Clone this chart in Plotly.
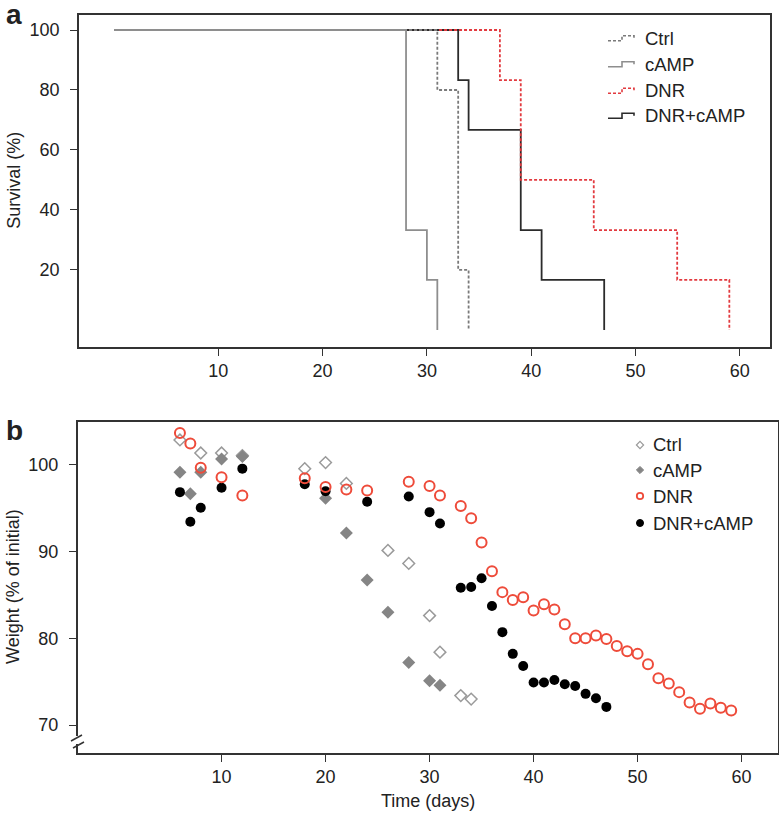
import plotly.graph_objects as go

# ---- panel a: survival (Kaplan-Meier steps) ----
ctrl_surv_t = [0, 31, 33, 34]
ctrl_surv = [100, 80, 20, 0]
camp_surv_t = [0, 28, 30, 31]
camp_surv = [100, 33.3, 16.7, 0]
dnr_surv_t = [0, 37, 39, 46, 54, 59]
dnr_surv = [100, 83.3, 50, 33.3, 16.7, 0]
dnrcamp_surv_t = [0, 33, 34, 39, 41, 47]
dnrcamp_surv = [100, 83.3, 66.7, 33.3, 16.7, 0]

# ---- panel b: body weight (% of initial) ----
ctrl_days = [6, 8, 10, 12, 18, 20, 22, 26, 28, 30, 31, 33, 34]
ctrl_weight = [102.8, 101.3, 101.3, 101.0, 99.5, 100.2, 97.8, 90.1, 88.6, 82.6, 78.4, 73.4, 73.0]
camp_days = [6, 7, 8, 10, 12, 20, 22, 24, 26, 28, 30, 31]
camp_weight = [99.1, 96.6, 99.1, 100.6, 100.9, 96.1, 92.1, 86.7, 83.0, 77.2, 75.1, 74.6]
dnr_days = [6, 7, 8, 10, 12, 18, 20, 22, 24, 28, 30, 31, 33, 34, 35, 36, 37, 38, 39, 40,
            41, 42, 43, 44, 45, 46, 47, 48, 49, 50, 51, 52, 53, 54, 55, 56, 57, 58, 59]
dnr_weight = [103.6, 102.4, 99.6, 98.5, 96.4, 98.4, 97.4, 97.1, 97.0, 98.0, 97.5, 96.4, 95.2,
              93.8, 91.0, 87.7, 85.3, 84.4, 84.7, 83.2, 83.9, 83.3, 81.6, 80.0, 80.0, 80.3,
              79.9, 79.1, 78.5, 78.2, 77.0, 75.4, 74.8, 73.8, 72.6, 71.9, 72.5, 72.0, 71.7]
dnrcamp_days = [6, 7, 8, 10, 12, 18, 20, 24, 28, 30, 31, 33, 34, 35, 36, 37, 38, 39, 40,
                41, 42, 43, 44, 45, 46, 47]
dnrcamp_weight = [96.8, 93.4, 95.0, 97.3, 99.5, 97.7, 96.9, 95.7, 96.3, 94.5, 93.2, 85.8, 85.9,
                  86.9, 83.7, 80.7, 78.2, 76.8, 74.9, 74.9, 75.2, 74.7, 74.5, 73.6, 73.1, 72.1]

group_names = ['Ctrl', 'cAMP', 'DNR', 'DNR+cAMP']

W, H = 779, 815
FONT = 'Liberation Sans, Arial, Helvetica, sans-serif'
TXT = '#222222'
AX = '#333333'
GRAY_DOT = '#7a7a7a'
GRAY = '#8e8e8e'
RED_LINE = '#e23a3f'
RED_PT = '#ee4b3a'
DARK = '#2b2b2b'


def px(x):
    return x / W


def py(y):
    return 1 - y / H


fig = go.Figure()

# survival curves (drawn so the light grey line lies on top of the common 100% segment)
fig.add_trace(go.Scatter(x=dnrcamp_surv_t, y=dnrcamp_surv, mode='lines', line_shape='hv',
                         line=dict(color=DARK, width=1.8), xaxis='x', yaxis='y'))
fig.add_trace(go.Scatter(x=dnr_surv_t, y=dnr_surv, mode='lines', line_shape='hv',
                         line=dict(color=RED_LINE, width=1.8, dash='3px,2px'), xaxis='x', yaxis='y'))
fig.add_trace(go.Scatter(x=ctrl_surv_t, y=ctrl_surv, mode='lines', line_shape='hv',
                         line=dict(color=GRAY_DOT, width=1.8, dash='3px,2px'), xaxis='x', yaxis='y'))
fig.add_trace(go.Scatter(x=camp_surv_t, y=camp_surv, mode='lines', line_shape='hv',
                         line=dict(color=GRAY, width=1.8), xaxis='x', yaxis='y'))

# weight points
fig.add_trace(go.Scatter(x=ctrl_days, y=ctrl_weight, mode='markers', xaxis='x2', yaxis='y2',
                         marker=dict(symbol='diamond-open', size=9, color='#9a9a9a',
                                     line=dict(width=1.5, color='#9a9a9a'))))
fig.add_trace(go.Scatter(x=camp_days, y=camp_weight, mode='markers', xaxis='x2', yaxis='y2',
                         marker=dict(symbol='diamond', size=10, color='#858585')))
fig.add_trace(go.Scatter(x=dnrcamp_days, y=dnrcamp_weight, mode='markers', xaxis='x2', yaxis='y2',
                         marker=dict(symbol='circle', size=10, color='#000000')))
fig.add_trace(go.Scatter(x=dnr_days, y=dnr_weight, mode='markers', xaxis='x2', yaxis='y2',
                         marker=dict(symbol='circle-open', size=10, color=RED_PT,
                                     line=dict(width=2, color=RED_PT))))

axis_common = dict(showline=True, mirror=True, linecolor=AX, linewidth=1.6, ticks='outside',
                   ticklen=7, tickwidth=1.4, tickcolor=AX, showgrid=False, zeroline=False,
                   tickfont=dict(family=FONT, size=18, color=TXT), automargin=False)
x_common = dict(ticklabelstandoff=0, **axis_common)
y_common = dict(ticklabelstandoff=7, **axis_common)

fig.update_layout(
    width=W, height=H,
    margin=dict(l=0, r=0, t=0, b=0),
    paper_bgcolor='white', plot_bgcolor='white',
    showlegend=False,
    font=dict(family=FONT, color=TXT),
    xaxis=dict(domain=[px(79), px(770)], range=[-3.36, 62.9], tickvals=[10, 20, 30, 40, 50, 60],
               anchor='y', **x_common),
    yaxis=dict(domain=[py(346.7), py(14.7)], range=[-5.6, 105.1], tickvals=[20, 40, 60, 80, 100],
               anchor='x', **y_common),
    xaxis2=dict(domain=[px(77.7), px(778)], range=[-3.83, 63.5], tickvals=[10, 20, 30, 40, 50, 60],
                anchor='y2', **x_common),
    yaxis2=dict(domain=[py(753), py(421.7)], range=[66.8, 104.9], tickvals=[70, 80, 90, 100],
                anchor='x2', **y_common),
)

annotations = [
    dict(text='<b>a</b>', x=px(14), y=py(14), font=dict(size=28)),
    dict(text='<b>b</b>', x=px(14), y=py(431), font=dict(size=28)),
    dict(text='Survival (%)', x=px(14), y=py(180.7), textangle=-90, font=dict(size=18)),
    dict(text='Weight (% of initial)', x=px(13), y=py(587), textangle=-90, font=dict(size=18)),
    dict(text='Time (days)', x=px(428), y=py(801), font=dict(size=18)),
]

shapes = []

# legend for panel a (step-shaped samples)
leg_a_y = [38.3, 64.3, 90.7, 115.7]
leg_a_style = [(GRAY_DOT, '3px,2px'), (GRAY, 'solid'), (RED_LINE, '3px,2px'), (DARK, 'solid')]
for name, yc, (col, dash) in zip(group_names, leg_a_y, leg_a_style):
    path = 'M {},{} H {} V {} H {} V {}'.format(px(608), py(yc + 2.5), px(622), py(yc - 2.5),
                                                 px(634), py(yc))
    shapes.append(dict(type='path', path=path, xref='paper', yref='paper',
                       line=dict(color=col, width=1.6, dash=dash)))
    annotations.append(dict(text=name, x=px(643), y=py(yc), xanchor='left',
                            font=dict(size=18.5)))

# legend for panel b (marker samples)
leg_b_y = [445, 470, 496, 523]
lx = 640
r = 3.6
shapes.append(dict(type='path', xref='paper', yref='paper',
                   path='M {},{} L {},{} L {},{} L {},{} Z'.format(
                       px(lx), py(leg_b_y[0] - r), px(lx + r), py(leg_b_y[0]),
                       px(lx), py(leg_b_y[0] + r), px(lx - r), py(leg_b_y[0])),
                   line=dict(color='#9a9a9a', width=1.2)))
shapes.append(dict(type='path', xref='paper', yref='paper',
                   path='M {},{} L {},{} L {},{} L {},{} Z'.format(
                       px(lx), py(leg_b_y[1] - r), px(lx + r), py(leg_b_y[1]),
                       px(lx), py(leg_b_y[1] + r), px(lx - r), py(leg_b_y[1])),
                   fillcolor='#858585', line=dict(color='#858585', width=1)))
shapes.append(dict(type='circle', xref='paper', yref='paper',
                   x0=px(lx - 3.2), x1=px(lx + 3.2), y0=py(leg_b_y[2] + 3.2), y1=py(leg_b_y[2] - 3.2),
                   line=dict(color=RED_PT, width=1.8)))
shapes.append(dict(type='circle', xref='paper', yref='paper',
                   x0=px(lx - 3.5), x1=px(lx + 3.5), y0=py(leg_b_y[3] + 3.5), y1=py(leg_b_y[3] - 3.5),
                   fillcolor='#000000', line=dict(color='#000000', width=1)))
for name, yc in zip(group_names, leg_b_y):
    annotations.append(dict(text=name, x=px(651), y=py(yc), xanchor='left',
                            font=dict(size=18.5)))

# axis break on the weight axis
shapes.append(dict(type='rect', xref='paper', yref='paper', layer='above',
                   x0=px(74), x1=px(82), y0=py(744), y1=py(736),
                   fillcolor='white', line=dict(width=0)))
shapes.append(dict(type='line', xref='paper', yref='paper', x0=px(71), y0=py(741), x1=px(82), y1=py(735),
                   line=dict(color=AX, width=1.5)))
shapes.append(dict(type='line', xref='paper', yref='paper', x0=px(73), y0=py(748), x1=px(84), y1=py(742),
                   line=dict(color=AX, width=1.5)))

for a in annotations:
    a.update(xref='paper', yref='paper', showarrow=False)
    a.setdefault('xanchor', 'center')
    a.setdefault('yanchor', 'middle')
    a['font'] = dict(family=FONT, color=TXT, **a['font'])

fig.update_layout(annotations=annotations, shapes=shapes)

# drop the page's default body margin so the figure fills the window exactly
fig.write_html('out.html', config={'displayModeBar': False},
               post_script="document.body.style.margin='0';")
